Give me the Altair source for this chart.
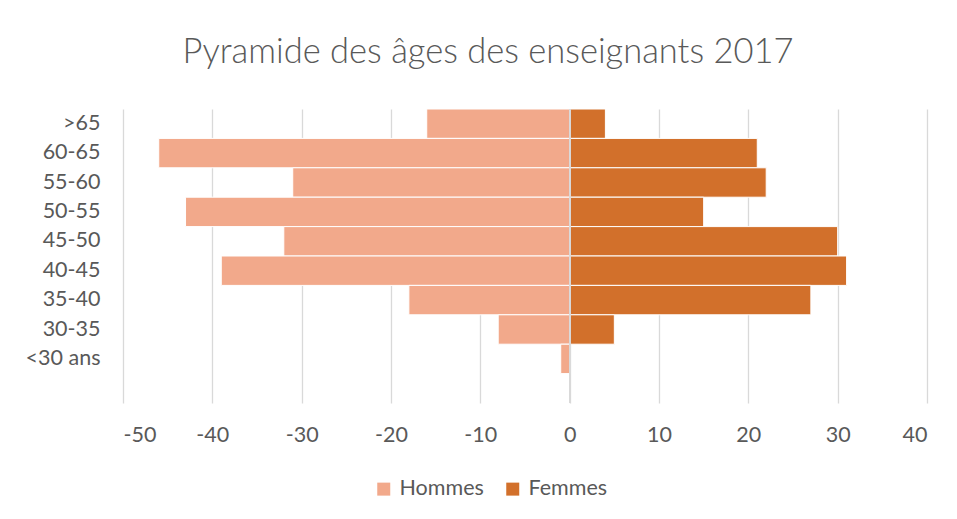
import altair as alt
import pandas as pd

ages = [">65", "60-65", "55-60", "50-55", "45-50", "40-45", "35-40", "30-35", "<30 ans"]
hommes = [-16, -46, -31, -43, -32, -39, -18, -8, -1]
femmes = [4, 21, 22, 15, 30, 31, 27, 5, 0]
x_ticks = [-50, -40, -30, -20, -10, 0, 10, 20, 30, 40]
series = ["Hommes", "Femmes"]
colors = ["#F2A98B", "#D2702B"]
title_text = "Pyramide des âges des enseignants 2017"

rows = []
for a, h, f in zip(ages, hommes, femmes):
    rows.append({"age": a, "sexe": series[0], "n": h})
    rows.append({"age": a, "sexe": series[1], "n": f})
df = pd.DataFrame(rows)

y_domain = ages + [" "]
FONT = "Lato"
TXT = "#595959"
GRID = "#D9D9D9"

bars = alt.Chart(df).mark_bar(stroke="white", strokeWidth=1).encode(
    y=alt.Y(
        "age:N",
        scale=alt.Scale(domain=y_domain, paddingInner=0, paddingOuter=0),
        axis=alt.Axis(title=None, ticks=False, tickSize=0, domain=False, grid=False,
                      labelPadding=23, labelFont=FONT, labelFontSize=21.5, labelColor=TXT),
    ),
    x=alt.X(
        "n:Q",
        stack=None,
        scale=alt.Scale(domain=[-50, 40], nice=False, zero=False),
        axis=alt.Axis(title=None, values=x_ticks, labelExpr="'' + datum.value", ticks=False,
                      tickSize=0, domain=False, grid=True, gridColor=GRID, gridWidth=1.3,
                      labelPadding=21, labelFont=FONT, labelFontSize=21.5, labelColor=TXT),
    ),
    color=alt.Color(
        "sexe:N",
        scale=alt.Scale(domain=series, range=colors),
        legend=alt.Legend(title=None, orient="none", legendX=250, legendY=369,
                          direction="horizontal", symbolType="square", symbolSize=169,
                          symbolStrokeWidth=0, labelFont=FONT, labelFontSize=21.5,
                          labelColor=TXT, labelOffset=5, columnPadding=18),
    ),
)

zero = alt.Chart(df).mark_rule(color=GRID, strokeWidth=1.3).encode(x=alt.datum(0))

chart = alt.layer(bars, zero).properties(
    width=804,
    height=294,
    title=alt.Title(title_text, font=FONT, fontSize=34.5, fontWeight=300, color=TXT,
                    anchor="middle", dx=-37, offset=38),
    autosize=alt.AutoSizeParams(type="none"),
    padding={"left": 115, "top": 101, "right": 20, "bottom": 100},
).configure_view(stroke=None)

chart.save("out.html", embed_options={"renderer": "svg", "actions": False})
